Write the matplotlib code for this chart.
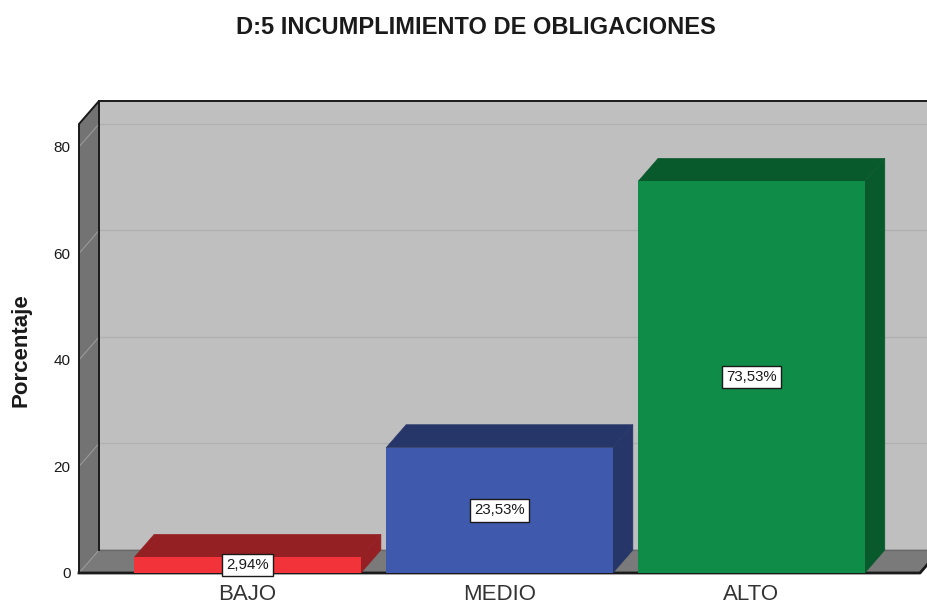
#!/usr/bin/env python3
"""D:5 bar chart with the fake 3D box, drawn on a plain matplotlib axes."""

import matplotlib
matplotlib.use("Agg")
import matplotlib.pyplot as plt
from matplotlib.patches import Polygon

plt.rcParams['font.family'] = ['Liberation Sans', 'DejaVu Sans']

# -------------------------------------------------------
# Data
# -------------------------------------------------------
CATEGORIES = ["BAJO", "MEDIO", "ALTO"]
PERCENTS   = [2.94, 23.53, 73.53]
LABELS     = ["2,94%", "23,53%", "73,53%"]
Y_TICKS    = [0, 20, 40, 60, 80]
TITLE      = "D:5 INCUMPLIMIENTO DE OBLIGACIONES"
Y_LABEL    = "Porcentaje"

# -------------------------------------------------------
# Styles
# -------------------------------------------------------
WIDTH_PX, HEIGHT_PX = 928, 604
FACE_COLORS = ["#F2333A", "#3F59AD", "#0F8C48"]
DARK_COLORS = ["#942023", "#263669", "#08592B"]
WALL_COLOR  = "#BFBFBF"
SIDE_COLOR  = "#737373"
FLOOR_COLOR = "#7A7A7A"
GRID_COLOR  = "#B0B0B0"
EDGE_COLOR  = "#1A1A1A"

BAR_WIDTH = 0.9
X_MIN, X_MAX = -0.669, 2.669
Y_MAX = 84.3
DX = 0.0794   # box depth in x data units
DY = 4.32     # box depth in y data units


def face(ax, points, color, z):
    # thin edge in the same colour hides the seam between neighbouring faces
    ax.add_patch(Polygon(points, closed=True, facecolor=color, edgecolor=color,
                         linewidth=0.4, zorder=z, clip_on=False))


def main():
    fig = plt.figure(figsize=(WIDTH_PX / 100, HEIGHT_PX / 100), dpi=100)
    left, right, bottom, top = 79, 920, 573, 124
    ax = fig.add_axes([left / WIDTH_PX, 1 - bottom / HEIGHT_PX,
                       (right - left) / WIDTH_PX, (bottom - top) / HEIGHT_PX])
    ax.set_xlim(X_MIN, X_MAX)
    ax.set_ylim(0, Y_MAX)
    ax.patch.set_visible(False)
    for spine in ax.spines.values():
        spine.set_visible(False)

    # Box: back wall, left wall, floor
    face(ax, [(X_MIN + DX, DY), (X_MAX + DX, DY),
              (X_MAX + DX, Y_MAX + DY), (X_MIN + DX, Y_MAX + DY)], WALL_COLOR, 1)
    face(ax, [(X_MIN, 0), (X_MIN + DX, DY),
              (X_MIN + DX, Y_MAX + DY), (X_MIN, Y_MAX)], SIDE_COLOR, 1)
    face(ax, [(X_MIN, 0), (X_MAX, 0), (X_MAX + DX, DY), (X_MIN + DX, DY)], FLOOR_COLOR, 1)

    # Gridlines on the walls
    for tick in Y_TICKS[1:]:
        ax.plot([X_MIN + DX, X_MAX + DX], [tick + DY, tick + DY], color=GRID_COLOR,
                lw=1.0, zorder=2, clip_on=False)
        ax.plot([X_MIN, X_MIN + DX], [tick, tick + DY], color="#9A9A9A",
                lw=0.8, zorder=2, clip_on=False)
    ax.plot([X_MIN, X_MIN + DX], [0, DY], color="#9A9A9A", lw=0.8, zorder=2)

    # Box edges
    ax.plot([X_MIN, X_MIN, X_MIN + DX, X_MAX + DX], [0, Y_MAX, Y_MAX + DY, Y_MAX + DY],
            color=EDGE_COLOR, lw=1.4, zorder=3, clip_on=False)
    ax.plot([X_MIN + DX, X_MIN + DX], [DY, Y_MAX + DY], color=EDGE_COLOR,
            lw=1.4, zorder=3, clip_on=False)
    ax.plot([X_MIN, X_MAX, X_MAX + DX], [0, 0, DY], color=EDGE_COLOR,
            lw=2.0, zorder=3, clip_on=False)
    ax.plot([X_MIN + DX, X_MAX + DX], [DY, DY], color="#6A6A6A", lw=1.0, zorder=2,
            clip_on=False)

    # Bars: front from ax.bar, top and side faces as polygons
    xs = list(range(len(CATEGORIES)))
    ax.bar(xs, PERCENTS, width=BAR_WIDTH, color=FACE_COLORS, zorder=5, clip_on=False)
    for x, value, dark in zip(xs, PERCENTS, DARK_COLORS):
        x0, x1 = x - BAR_WIDTH / 2, x + BAR_WIDTH / 2
        face(ax, [(x0, value), (x1, value), (x1 + DX, value + DY), (x0 + DX, value + DY)], dark, 4)
        face(ax, [(x1, 0), (x1 + DX, DY), (x1 + DX, value + DY), (x1, value)], dark, 4)

    for x, value, label in zip(xs, PERCENTS, LABELS):
        ax.text(x, value / 2, label, ha="center", va="center", fontsize=10.8, color="#1A1A1A",
                zorder=6, clip_on=False,
                bbox=dict(boxstyle="square,pad=0.28", facecolor="white",
                          edgecolor="#1A1A1A", linewidth=1.0))

    ax.set_xticks(xs)
    ax.set_xticklabels(CATEGORIES, fontsize=16, color="#333333")
    ax.set_yticks(Y_TICKS)
    ax.set_yticklabels([str(t) for t in Y_TICKS], fontsize=11, color="#1A1A1A")
    ax.tick_params(axis="x", length=0, pad=8)
    ax.tick_params(axis="y", length=0, pad=6)

    fig.text(476 / WIDTH_PX, 1 - 27 / HEIGHT_PX, TITLE, ha="center", va="center",
             fontsize=17, fontweight="bold", color="#1A1A1A")
    fig.text(21 / WIDTH_PX, 1 - 350 / HEIGHT_PX, Y_LABEL, ha="center", va="center",
             rotation=90, fontsize=16, fontweight="bold", color="#1A1A1A")

    fig.savefig("out.png", dpi=100, facecolor="white")


if __name__ == "__main__":
    main()
